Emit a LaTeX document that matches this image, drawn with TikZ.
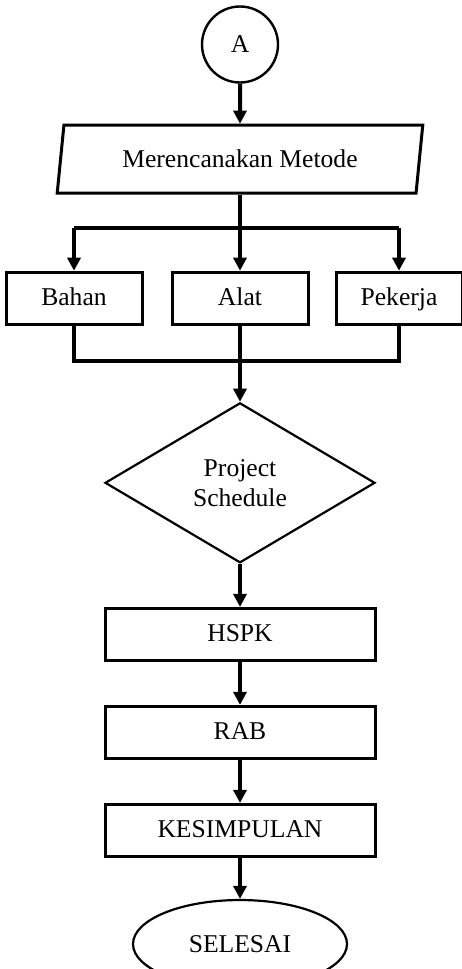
\documentclass[tikz,border=0pt]{standalone}
\usepackage{fontspec}
\setmainfont{Liberation Serif}
\usetikzlibrary{arrows.meta,positioning,shapes.geometric}
\tikzset{
  conn/.style={circle,draw,line width=1.2pt,minimum size=38pt,inner sep=0pt},
  io/.style={trapezium,trapezium left angle=76,trapezium right angle=104,trapezium stretches=true,draw,line width=1.5pt,minimum width=183pt,minimum height=34pt,inner sep=0pt},
  proc/.style={rectangle,draw,line width=1.5pt,minimum height=26pt,inner sep=0pt,text height=0.8em,text depth=0.05em},
  smallbox/.style={proc,minimum width=68pt},
  widebox/.style={proc,minimum width=135pt},
  dec/.style={diamond,draw,line width=1.1pt,minimum width=135pt,minimum height=80pt,inner sep=0pt,align=center},
  term/.style={ellipse,draw,line width=1.1pt,minimum width=107pt,minimum height=44pt,inner sep=0pt},
  arrow/.style={-{Triangle[length=6.5pt,width=6.5pt]},line width=2pt},
  link/.style={line width=2pt},
}
\begin{document}
\begin{tikzpicture}[x=0.5pt,y=-0.5pt,font=\fontsize{12.8}{15}\selectfont,node distance=20.5pt]
    \useasboundingbox (0,0) rectangle (461,969);
    \node[conn] (a) at (240,44.5) {A};
    \node[io,below=20pt of a] (metode) {Merencanakan Metode};
    \coordinate[below=16.5pt of metode] (split);
    \node[smallbox,below=21.5pt of split] (alat) {Alat};
    \node[smallbox,left=13.5pt of alat] (bahan) {Bahan};
    \node[smallbox,right=12.5pt of alat,minimum width=63pt] (pekerja) {Pekerja};
    \coordinate[below=17.5pt of alat] (join);
    \node[dec,below=of join] (ps) {Project\\Schedule};
    \node[widebox,below=21.5pt of ps] (hspk) {HSPK};
    \node[widebox,below=21.5pt of hspk] (rab) {RAB};
    \node[widebox,below=21.5pt of rab] (kes) {KESIMPULAN};
    \node[term,below=of kes] (selesai) {SELESAI};
    % cabang ke tiga sumber daya
    \draw[arrow] (a) -- (metode);
    \draw[link] (metode.south) -- (split);
    \draw[link] (split -| bahan.north) -- (split -| pekerja.north);
    \draw[arrow] (split -| bahan.north) -- (bahan);
    \draw[arrow] (split) -- (alat);
    \draw[arrow] (split -| pekerja.north) -- (pekerja);
    % gabung ke jadwal
    \draw[link] (bahan.south) |- (join) -| (pekerja.south);
    \draw[arrow] (alat.south) -- (ps.north);
    \draw[arrow] (ps) -- (hspk);
    \draw[arrow] (hspk) -- (rab);
    \draw[arrow] (rab) -- (kes);
    \draw[arrow] (kes) -- (selesai);
  \end{tikzpicture}
\end{document}
